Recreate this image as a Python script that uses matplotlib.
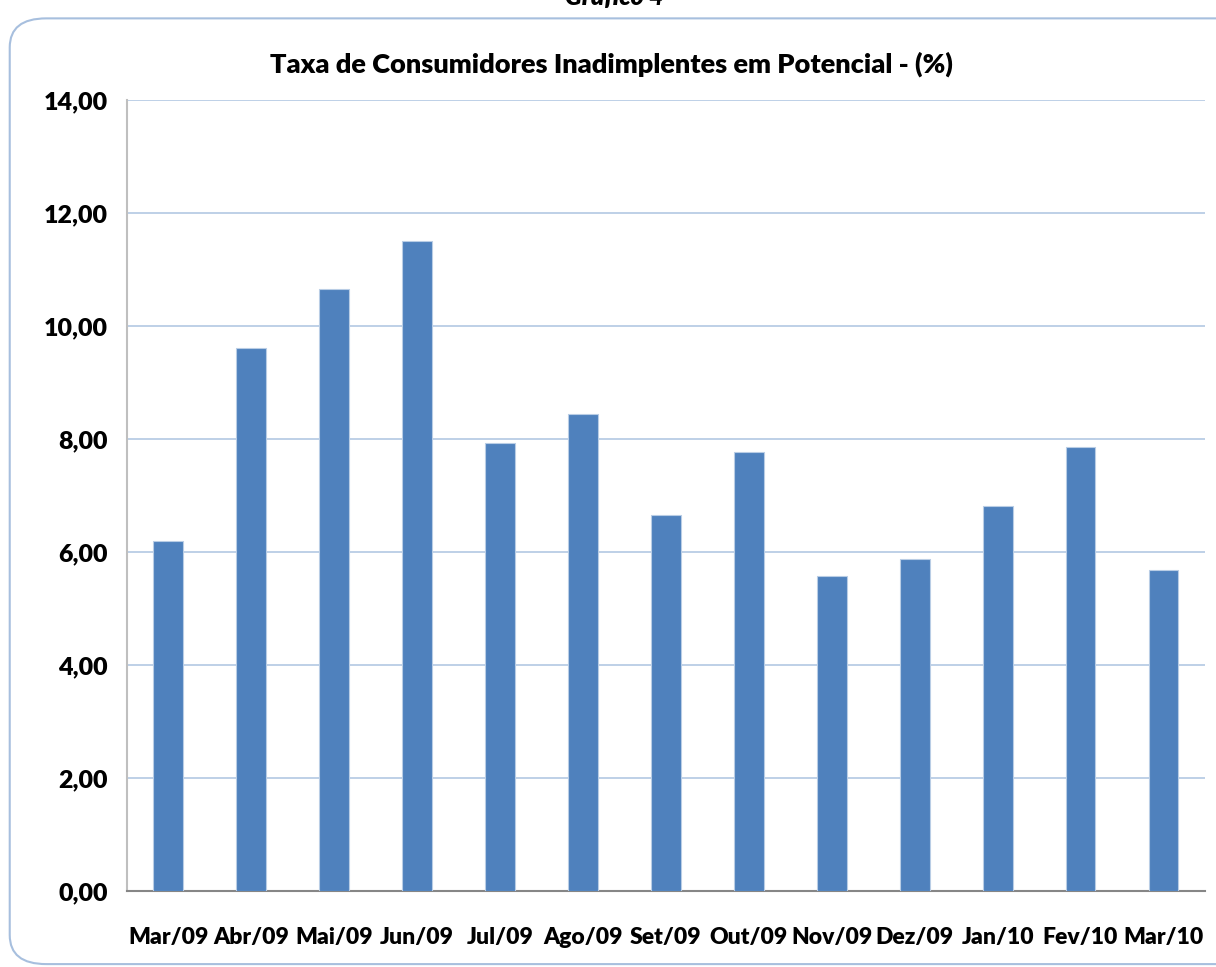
import matplotlib.pyplot as plt
import matplotlib as mpl
from matplotlib.patches import FancyBboxPatch
from matplotlib.ticker import FuncFormatter

# -- Data --
MONTHS = ["Mar/09", "Abr/09", "Mai/09", "Jun/09", "Jul/09", "Ago/09", "Set/09",
          "Out/09", "Nov/09", "Dez/09", "Jan/10", "Fev/10", "Mar/10"]
TAXA = [6.19, 9.61, 10.65, 11.50, 7.93, 8.44, 6.65, 7.77, 5.58, 5.88, 6.81, 7.86, 5.68]
Y_TICKS = [0, 2, 4, 6, 8, 10, 12, 14]

mpl.rcParams.update({"font.family": ["Lato", "DejaVu Sans"], "font.weight": "heavy"})

fig = plt.figure(figsize=(12.16, 9.67), dpi=100)

# rounded frame around the chart
frame = FancyBboxPatch((0.008, 0.003), 1.05, 0.978, boxstyle="round,pad=0,rounding_size=0.03",
                       transform=fig.transFigure, facecolor="none",
                       edgecolor="#a7bfde", linewidth=1.5, zorder=-1)
fig.patches.append(frame)

# caption cut off at the top (as in the source)
fig.text(0.505, 1.003, "Gráfico 4", ha="center", va="center", fontsize=18,
         fontweight="heavy", style="italic")

ax = fig.add_axes([0.1044, 0.0786, 0.8865, 0.818])
ax.patch.set_alpha(0)

x = range(len(MONTHS))
ax.bar(x, TAXA, width=0.36, color="#4f81bd", edgecolor="#b9cde5", linewidth=0.8, zorder=3)

ax.set_xlim(-0.5, len(MONTHS) - 0.5)
ax.set_ylim(0, 14)
ax.set_yticks(Y_TICKS)
ax.yaxis.set_major_formatter(FuncFormatter(lambda v, p: f"{v:.2f}".replace(".", ",")))
ax.set_xticks(list(x))
ax.set_xticklabels(MONTHS)

ax.grid(axis="y", color="#b9cde5", linewidth=1.3, zorder=0)
ax.tick_params(axis="y", length=0, pad=14, labelsize=18)
ax.tick_params(axis="x", length=0, pad=26, labelsize=16.5)

for side in ["top", "right"]:
    ax.spines[side].set_visible(False)
ax.spines["left"].set_color("#bfbfbf")
ax.spines["left"].set_linewidth(1.5)
ax.spines["bottom"].set_color("#868686")
ax.spines["bottom"].set_linewidth(1.5)

ax.set_title("Taxa de Consumidores Inadimplentes em Potencial - (%)",
             fontsize=19.5, fontweight="heavy", pad=20, x=0.449)

fig.savefig("out.png", dpi=100)
